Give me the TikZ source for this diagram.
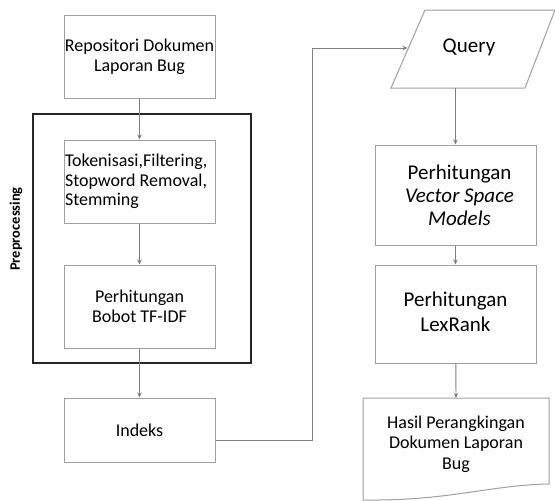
\documentclass[tikz,border=0pt]{standalone}
\usepackage{fontspec}
\setmainfont{Carlito}
\usetikzlibrary{arrows.meta}
\definecolor{boxgray}{RGB}{160,160,160}
\definecolor{arrgray}{RGB}{128,128,128}
\tikzset{
  box/.style={draw=boxgray, line width=1pt, rectangle, inner sep=0pt, align=center,
    font=\fontsize{18}{20}\selectfont},
  bigbox/.style={box, font=\fontsize{21}{23}\selectfont},
  arr/.style={draw=arrgray, line width=0.9pt, -{Stealth[length=5pt,width=4.5pt]}},
  frame/.style={draw=black!85, line width=2pt},
}
\begin{document}
\begin{tikzpicture}[x=1pt,y=-1pt]
\useasboundingbox (0,0) rectangle (555,501);
% preprocessing frame
\draw[frame] (33,114) rectangle (251,363);
\node[rotate=90, font=\fontsize{14.5}{16}\selectfont\bfseries] (prelabel) at (16,229) {Preprocessing};
% left column
\node[box, minimum width=151pt, minimum height=83pt] (repo) at (139.5,56.5) {Repositori Dokumen\\Laporan Bug};
\node[box, minimum width=151pt, minimum height=83pt, text width=149pt, align=flush left,
  font=\fontsize{18}{19.5}\selectfont] (tok) at (139.5,181.5) {Tokenisasi,Filtering,\\Stopword Removal,\\Stemming};
\node[box, minimum width=151pt, minimum height=83pt] (tfidf) at (139.5,306.5) {Perhitungan\\Bobot TF-IDF};
\node[box, minimum width=151pt, minimum height=64pt] (idx) at (139.5,430) {Indeks};
% query parallelogram
\coordinate (q1) at (425,10);
\coordinate (q2) at (555,10);
\coordinate (q3) at (525,88);
\coordinate (q4) at (391,88);
\draw[draw=boxgray, line width=1pt] (q1) -- (q2) -- (q3) -- (q4) -- cycle;
\node[font=\fontsize{21}{23}\selectfont] (query) at (469,47) {Query};
\coordinate (qin) at (407.5,48);
\coordinate (qout) at (455.5,88);
\coordinate (bend) at (312,48);
% right column
\node[bigbox, minimum width=161pt, minimum height=100pt] (vsm) at (455.5,195) {\hspace*{8pt}Perhitungan\\\hspace*{8pt}\itshape Vector Space\\\hspace*{8pt}\itshape Models};
\node[bigbox, minimum width=161pt, minimum height=98pt, font=\fontsize{21}{25}\selectfont] (lex) at (455.5,314) {Perhitungan\\LexRank\vphantom{g}};
% document shape
\coordinate (dtop) at (456,398);
\draw[draw=boxgray, line width=1pt] (363,398) -- (549,398) -- (549,484)
  .. controls (490,485) and (450,501) .. (363,500) -- cycle;
\node[align=center, font=\fontsize{18}{20.5}\selectfont] (hasil) at (456,444) {Hasil Perangkingan\\Dokumen Laporan\\Bug};
% connectors
\draw[arr] (repo) -- (tok);
\draw[arr] (tok) -- (tfidf);
\draw[arr] (tfidf) -- (idx);
\draw[arr] ([yshift=-10pt]idx.east) -| (bend) -- (qin);
\draw[arr] (qout) -- (vsm);
\draw[arr] (vsm) -- (lex);
\draw[arr] (lex) -- (dtop);
\end{tikzpicture}
\end{document}
